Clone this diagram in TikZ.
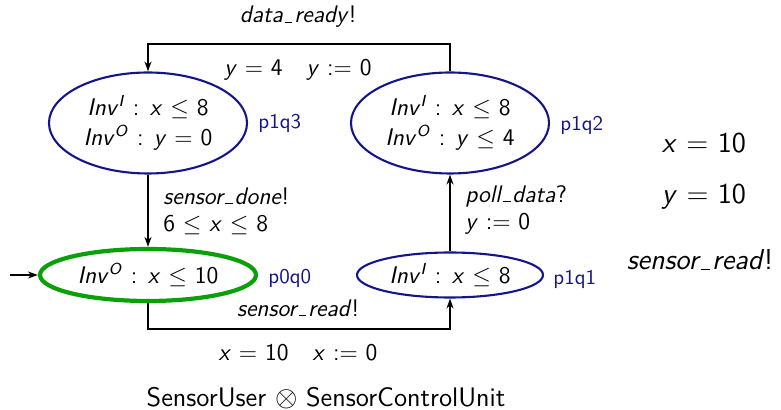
\documentclass[tikz,border=0pt]{standalone}
\usetikzlibrary{shapes.geometric,arrows.meta}
\renewcommand{\familydefault}{\sfdefault}
\definecolor{locblue}{RGB}{20,20,140}
\definecolor{initgreen}{RGB}{10,160,10}
\newcommand{\vv}[1]{\textit{#1}}
\newcommand{\us}{\leavevmode\kern.08em\vbox{\hrule width.32em height 0.5pt}\kern.08em}
\begin{document}
\begin{tikzpicture}[x=0.5pt,y=-0.5pt, font=\fontsize{12}{15}\selectfont,
  loc/.style={ellipse, draw=locblue, line width=1.05pt, inner sep=0pt, align=center},
  initloc/.style={ellipse, draw=initgreen, line width=2.1pt, inner sep=0pt},
  tag/.style={text=locblue, font=\fontsize{10.5}{12}\selectfont, anchor=west, inner sep=0pt},
  edge/.style={draw, line width=0.9pt, -{Stealth[length=5pt,width=3.5pt]}},
  lbl/.style={inner sep=0pt},
  twoline/.style={inner sep=0pt, align=left, anchor=west, font=\fontsize{12}{13.5}\selectfont},
  big/.style={font=\fontsize{14.4}{17}\selectfont}]
\useasboundingbox (0,0) rectangle (781,410);
% locations
\node[loc, minimum width=99pt, minimum height=50.5pt] (q3) at (148,123)
  {\vv{Inv}\textsuperscript{\vv{I}} : \vv{x} $\leq$ 8\\ \vv{Inv}\textsuperscript{\vv{O}} : \vv{y} = 0};
\node[loc, minimum width=99pt, minimum height=50.5pt] (q2) at (450,123)
  {\vv{Inv}\textsuperscript{\vv{I}} : \vv{x} $\leq$ 8\\ \vv{Inv}\textsuperscript{\vv{O}} : \vv{y} $\leq$ 4};
\node[initloc, minimum width=108pt, minimum height=26pt] (q0) at (148,275)
  {\vv{Inv}\textsuperscript{\vv{O}} : \vv{x} $\leq$ 10};
\node[loc, minimum width=93pt, minimum height=22.5pt] (q1) at (450,275)
  {\vv{Inv}\textsuperscript{\vv{I}} : \vv{x} $\leq$ 8};
% tags
\node[tag] (t3) at (258,123) {p1q3};
\node[tag] (t2) at (560,125) {p1q2};
\node[tag] (t0) at (268,278) {p0q0};
\node[tag] (t1) at (553,279) {p1q1};
% edges
\coordinate (ctop) at (300,44);
\coordinate (cbot) at (300,329);
\coordinate (start) at (10,275);
\draw[edge] (q2.north) |- (ctop) -| (q3.north);
\draw[edge] (q3.south) -- (q0.north);
\draw[edge] (q0.south) |- (cbot) -| (q1.south);
\draw[edge] (q1.north) -- (q2.south);
\draw[edge] (start) -- (q0.west);
% edge labels
\node[lbl] (ldr) at (298,17) {\vv{data\us ready}!};
\node[lbl] (lg1) at (298,70) {\vv{y} = 4\quad \vv{y} := 0};
\node[twoline] (lsd) at (163,211) {\vv{sensor\us done}!\\6 $\leq$ \vv{x} $\leq$ 8};
\node[twoline] (lpd) at (465,210) {\vv{poll\us data}?\\\vv{y} := 0};
\node[lbl] (lsr) at (298,308) {\vv{sensor\us read}!};
\node[lbl] (lxg) at (298,353) {\vv{x} = 10\quad \vv{x} := 0};
\node[lbl, font=\fontsize{13.4}{16}\selectfont] (title) at (326,398) {SensorUser $\otimes$ SensorControlUnit};
% right side
\node[big] (rx) at (704,143) {\vv{x} = 10};
\node[big] (ry) at (704,197) {\vv{y} = 10};
\node[big] (rs) at (700,260) {\vv{sensor\us read}!};
\end{tikzpicture}
\end{document}
